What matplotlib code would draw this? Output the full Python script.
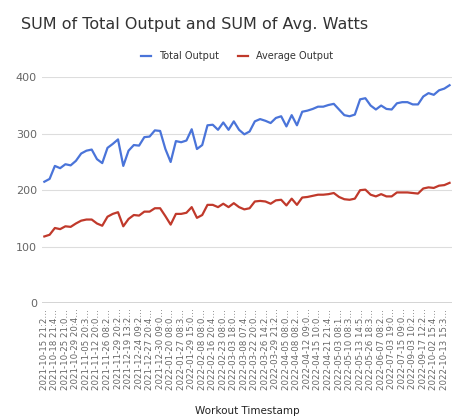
import matplotlib
matplotlib.use('Agg')
import matplotlib.pyplot as plt
import numpy as np

total_output = [215, 220, 243, 239, 246, 244, 252, 265, 270, 272, 255, 248, 275, 282, 290, 243,
                270, 280, 279, 294, 295, 306, 305, 273, 250, 287, 285, 288, 308, 273, 280, 315,
                316, 307, 320, 307, 322, 307, 299, 304,
                322, 326, 323, 319, 328, 331, 313, 333, 315, 339, 341, 344, 348, 348, 351, 353,
                343, 333, 331, 334, 361, 363, 350, 343, 350, 344, 343, 354, 356, 356, 352, 352,
                366, 372, 369, 377, 380, 386]
avg_output = [118, 121, 133, 131, 136, 135, 141, 146, 148, 148, 141, 137, 153, 158, 161, 136,
              149, 156, 155, 162, 162, 168, 168, 154, 139, 158, 158, 160, 170, 151, 156, 174,
              174, 170, 176, 170, 177, 170, 166, 168,
              180, 181, 180, 176, 182, 183, 173, 185, 174, 187, 188, 190, 192, 192, 193, 195,
              188, 184, 183, 185, 200, 201, 192, 189, 193, 189, 189, 196, 196, 196, 195, 194,
              203, 205, 204, 208, 209, 213]
tick_labels = ['2021-10-15 21:2…', '2021-10-18 21:4…', '2021-10-25 21:0…', '2021-10-29 20:4…',
               '2021-11-05 20:3…', '2021-11-12 20:0…', '2021-11-26 08:2…', '2021-11-29 20:2…',
               '2021-12-19 13:2…', '2021-12-24 09:2…', '2021-12-27 20:4…', '2021-12-30 09:0…',
               '2022-01-20 08:0…', '2022-01-27 08:3…', '2022-01-29 15:0…', '2022-02-08 08:0…',
               '2022-02-16 20:4…', '2022-02-23 08:0…', '2022-03-03 18:0…', '2022-03-08 07:4…',
               '2022-03-22 20:0…', '2022-03-26 14:2…', '2022-03-29 21:2…', '2022-04-05 08:0…',
               '2022-04-08 08:2…', '2022-04-12 09:0…', '2022-04-15 10:0…', '2022-04-21 21:4…',
               '2022-05-03 08:1…', '2022-05-10 08:3…', '2022-05-13 14:5…', '2022-05-26 18:3…',
               '2022-06-07 08:2…', '2022-07-03 19:0…', '2022-07-15 09:0…', '2022-09-03 10:2…',
               '2022-09-17 12:2…', '2022-10-02 15:4…', '2022-10-13 15:3…']

x = np.arange(len(total_output))

fig = plt.figure(figsize=(4.74, 4.18), dpi=100)
ax = fig.add_axes([0.088, 0.275, 0.866, 0.54])

ax.plot(x, total_output, color='#4a74d9', lw=1.6, label='Total Output')
ax.plot(x, avg_output, color='#c0392b', lw=1.6, label='Average Output')

ax.set_ylim(0, 400)
ax.set_yticks([0, 100, 200, 300, 400])
ax.set_xlim(-0.5, len(x) - 0.5)
ax.set_xticks(x[::2])
ax.set_xticklabels(tick_labels, rotation=90, fontsize=6.2, color='#666666')
ax.tick_params(axis='y', labelsize=8, colors='#666666', length=0)
ax.tick_params(axis='x', length=0, pad=4)
ax.grid(axis='y', color='#dddddd', lw=0.8)
ax.set_axisbelow(True)
for sp in ax.spines.values():
    sp.set_visible(False)
ax.axhline(0, color='#333333', lw=1)

ax.set_xlabel('Workout Timestamp', fontsize=7.5, color='#222222', labelpad=12)
fig.text(0.045, 0.93, 'SUM of Total Output and SUM of Avg. Watts', fontsize=11.5, color='#333333')
fig.legend(loc='center', bbox_to_anchor=(0.5, 0.865), ncol=2, frameon=False, fontsize=7,
           handlelength=1.0, columnspacing=2.0, labelcolor='#333333')

fig.savefig('out.png', dpi=100)
